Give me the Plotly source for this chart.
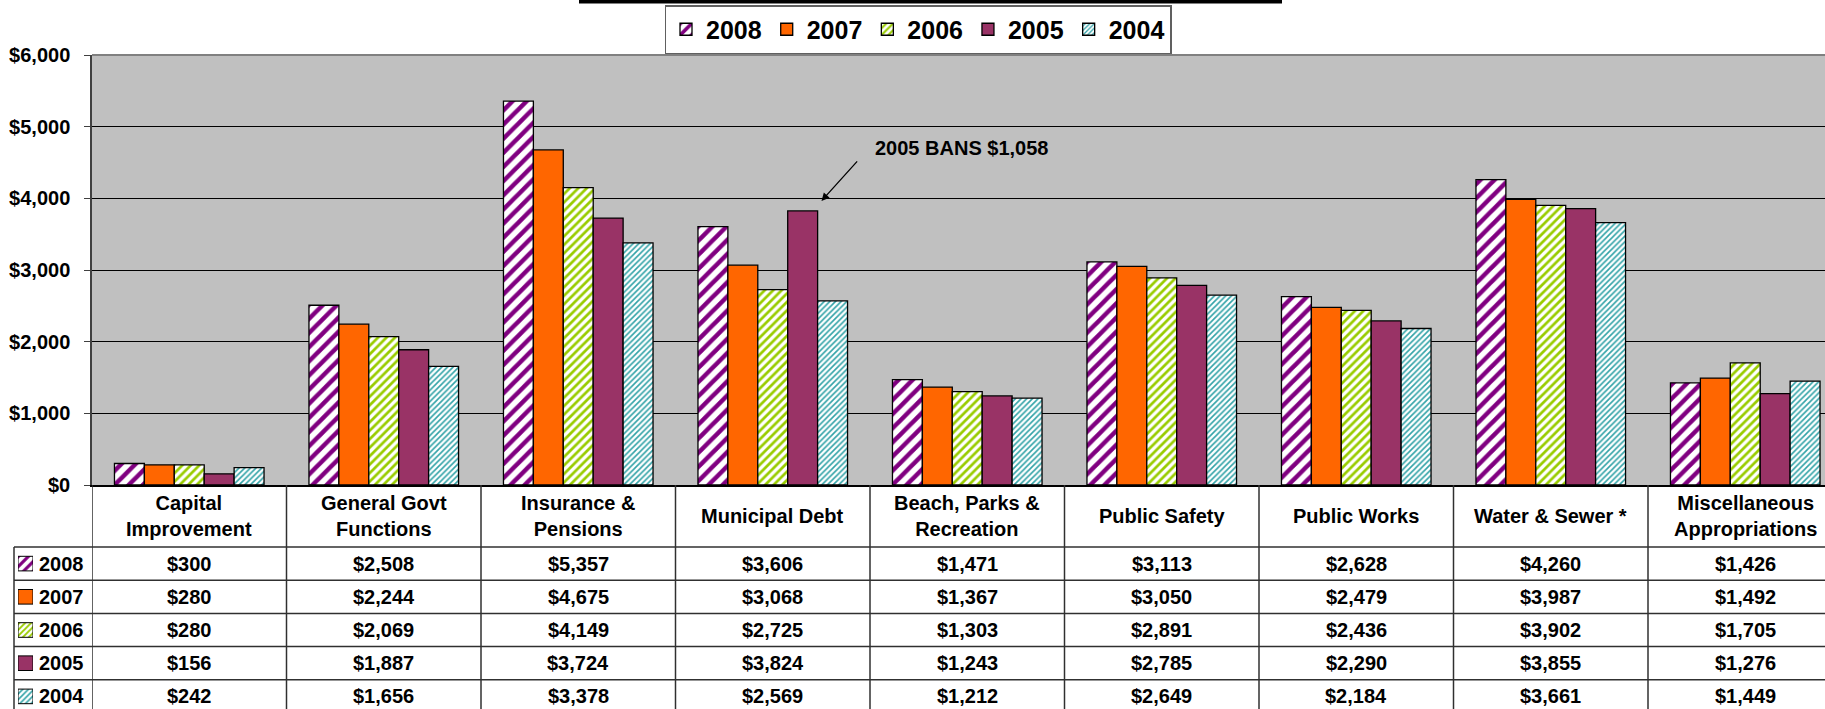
import plotly.graph_objects as go

categories = ["Capital<br>Improvement", "General Govt<br>Functions", "Insurance &<br>Pensions",
              "Municipal Debt", "Beach, Parks &<br>Recreation", "Public Safety",
              "Public Works", "Water & Sewer *", "Miscellaneous<br>Appropriations"]
years = ["2008", "2007", "2006", "2005", "2004"]
v2008 = [300, 2508, 5357, 3606, 1471, 3113, 2628, 4260, 1426]
v2007 = [280, 2244, 4675, 3068, 1367, 3050, 2479, 3987, 1492]
v2006 = [280, 2069, 4149, 2725, 1303, 2891, 2436, 3902, 1705]
v2005 = [156, 1887, 3724, 3824, 1243, 2785, 2290, 3855, 1276]
v2004 = [242, 1656, 3378, 2569, 1212, 2649, 2184, 3661, 1449]
series = [v2008, v2007, v2006, v2005, v2004]
y_ticks = [0, 1000, 2000, 3000, 4000, 5000, 6000]
y_tick_labels = ["$0", "$1,000", "$2,000", "$3,000", "$4,000", "$5,000", "$6,000"]
note_text = "2005 BANS $1,058"

styles = [
    dict(color="white", shape="/", fg="#800080", bg="white", size=10, solidity=0.45),
    dict(color="#FF6600", shape="", fg="#FF6600", bg="#FF6600", size=8, solidity=0.3),
    dict(color="white", shape="/", fg="#99CC00", bg="white", size=6, solidity=0.45),
    dict(color="#993366", shape="", fg="#993366", bg="#993366", size=8, solidity=0.3),
    dict(color="white", shape="/", fg="#33A3A8", bg="white", size=4, solidity=0.4),
]

W, H = 1825, 709
T = 55
PLOT_L = 92
AXIS_BOTTOM = 485
COLW = 194.5
PH = H - T  # paper height


def py(px):
    return (H - px) / PH


FONT = "Liberation Sans, Arial, sans-serif"
fig = go.Figure()
xs = list(range(len(categories)))
for yr, vals, st in zip(years, series, styles):
    fig.add_trace(go.Bar(
        x=xs, y=vals, name=yr,
        marker=dict(color=st["color"], line=dict(color="black", width=1.3),
                    pattern=dict(shape=st["shape"], fgcolor=st["fg"], bgcolor=st["bg"],
                                 size=st["size"], solidity=st["solidity"], fillmode="replace")),
    ))

# swatches in table row labels
for r, (yr, st) in enumerate(zip(years, styles)):
    fig.add_trace(go.Bar(
        x=[1], y=[r], orientation="h", xaxis="x2", yaxis="y2",
        width=0.44, offset=-0.22, showlegend=False, hoverinfo="skip", name=yr,
        marker=dict(color=st["color"], line=dict(color="black", width=1),
                    pattern=dict(shape=st["shape"], fgcolor=st["fg"], bgcolor=st["bg"],
                                 size=max(4, st["size"] * 0.7), solidity=st["solidity"],
                                 fillmode="replace")),
    ))

n_vis = (W - PLOT_L) / COLW
SW_RANGE = [-0.5 + 162 / 33.2, -0.5]
fig.update_layout(
    width=W, height=H,
    margin=dict(l=0, r=0, t=T, b=0, autoexpand=False),
    paper_bgcolor="white", plot_bgcolor="#C0C0C0",
    font=dict(family=FONT, size=20, color="black", weight="bold"),
    barmode="group", bargap=0.231, bargroupgap=0,
    xaxis=dict(domain=[PLOT_L / W, 1], range=[-0.5, -0.5 + n_vis], showticklabels=False,
               showgrid=False, zeroline=False, showline=True, linecolor="black", linewidth=1.5,
               ticks="", automargin=False, fixedrange=True),
    yaxis=dict(domain=[py(AXIS_BOTTOM), 1], range=[0, 6000], tickmode="array",
               tickvals=y_ticks, ticktext=y_tick_labels,
               showgrid=True, gridcolor="black", gridwidth=1,
               zeroline=False, showline=True, linecolor="#404040", linewidth=1.5,
               ticks="outside", ticklen=6, tickcolor="#404040", ticklabelstandoff=10,
               tickfont=dict(size=20, family=FONT, weight="bold"), automargin=False),
    xaxis2=dict(domain=[18 / W, 33 / W], range=[0, 1], visible=False, anchor="y2"),
    yaxis2=dict(domain=[0, py(547)], range=SW_RANGE, visible=False, anchor="x2"),
    legend=dict(orientation="h", x=918 / W, xanchor="center", y=py(5), yanchor="top",
                bgcolor="white", bordercolor="#606060", borderwidth=1.5,
                font=dict(size=25, family=FONT, weight="bold"), itemwidth=30,
                tracegroupgap=0),
    showlegend=True,
)

shapes = []
# white background behind the swatch mini-axes
shapes.append(dict(type="rect", xref="x2", yref="y2", x0=-0.1, x1=1.1, y0=SW_RANGE[0], y1=SW_RANGE[1],
                   fillcolor="white", line=dict(width=0), layer="below"))
# plot top border
shapes.append(dict(type="line", xref="paper", yref="paper", x0=PLOT_L / W, x1=1, y0=1, y1=1,
                   line=dict(color="#808080", width=2)))
# cropped title underline
shapes.append(dict(type="line", xref="paper", yref="paper", x0=579 / W, x1=1282 / W, y0=py(1.5), y1=py(1.5),
                   line=dict(color="black", width=4)))
LC = "#303030"
# vertical table lines
for i in range(len(categories)):
    shapes.append(dict(type="line", xref="x", yref="paper", x0=i - 0.5, x1=i - 0.5,
                       y0=py(AXIS_BOTTOM), y1=0, line=dict(color=LC, width=1.5)))
shapes.append(dict(type="line", xref="paper", yref="paper", x0=14 / W, x1=14 / W,
                   y0=py(547), y1=0, line=dict(color=LC, width=1.5)))
row_tops = [547, 580.2, 613.4, 646.6, 679.8]
for rt in row_tops:
    shapes.append(dict(type="line", xref="paper", yref="paper", x0=14 / W, x1=1,
                       y0=py(rt), y1=py(rt), line=dict(color=LC, width=1.5)))
fig.update_layout(shapes=shapes)

ann = []
for i, c in enumerate(categories):
    ann.append(dict(x=i, y=py(516), xref="x", yref="paper", text=c, showarrow=False,
                    font=dict(size=20, family=FONT, weight="bold"), xanchor="center", yanchor="middle"))
for r, (yr, vals) in enumerate(zip(years, series)):
    yc = row_tops[r] + 16.6
    ann.append(dict(x=37 / W, y=py(yc), xref="paper", yref="paper", text=yr, showarrow=False,
                    font=dict(size=20, family=FONT, weight="bold"), xanchor="left", yanchor="middle"))
    for i, v in enumerate(vals):
        ann.append(dict(x=i, y=py(yc), xref="x", yref="paper", text=f"${v:,}", showarrow=False,
                        font=dict(size=20, family=FONT, weight="bold"), xanchor="center", yanchor="middle"))

# arrow pointing to the 2005 Municipal Debt bar
bw = (1 - 0.231) / 5
tip_x = 3 + 1.5 * bw + 0.02
tip_y = v2005[3] + 140
ann.append(dict(x=tip_x, y=tip_y, xref="x", yref="y", text="", showarrow=True,
                ax=37, ay=-41, axref="pixel", ayref="pixel", arrowhead=2, arrowsize=1.2,
                arrowwidth=1.3, arrowcolor="black"))
ann.append(dict(x=(873 - PLOT_L) / COLW - 0.5, y=(AXIS_BOTTOM - 148) / (430 / 6000), xref="x", yref="y",
                text=note_text, showarrow=False, xanchor="left", yanchor="middle",
                font=dict(size=20, family=FONT, weight="bold")))
fig.update_layout(annotations=ann)

fig.write_html("out.html", config={"displayModeBar": False},
               post_script="document.body.style.margin='0';document.body.style.overflow='hidden';")
